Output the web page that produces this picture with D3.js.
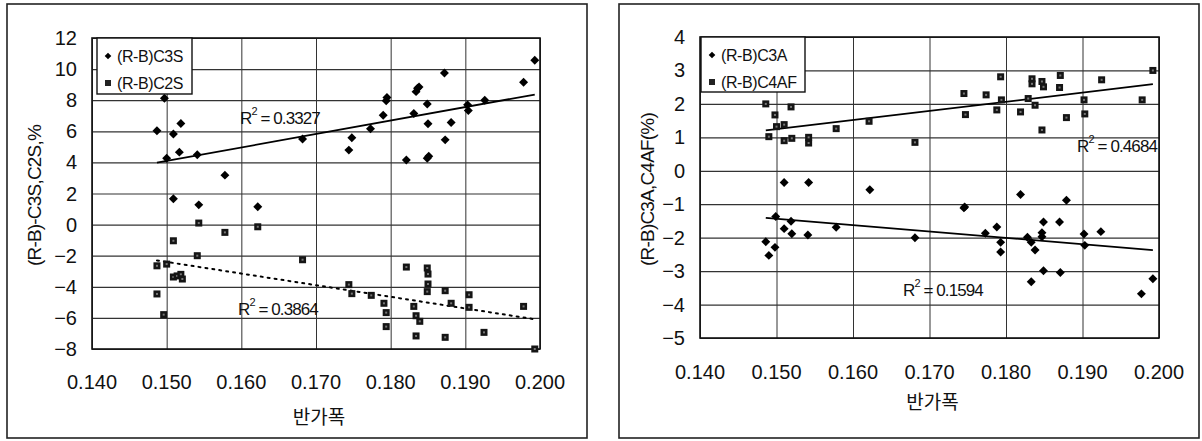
<!DOCTYPE html>
<html>
<head>
<meta charset="utf-8">
<script src="https://cdn.jsdelivr.net/npm/d3@7"></script>
<style>
  body { margin: 0; background: #fff; }
  svg text { font-family: "Liberation Sans", Arial, sans-serif; fill: #111; }
</style>
</head>
<body>
<div id="graph"></div>
<script>
// x ticks shared by both panels
var xTicks = [0.140, 0.150, 0.160, 0.170, 0.180, 0.190, 0.200];
var leftYTicks = [-8, -6, -4, -2, 0, 2, 4, 6, 8, 10, 12];
var rightYTicks = [-5, -4, -3, -2, -1, 0, 1, 2, 3, 4];

// left panel: (R-B)C3S
var c3sX = [0.1487, 0.1497, 0.1500, 0.1509, 0.1519, 0.1517, 0.1541, 0.1578, 0.1509, 0.1543, 0.1622, 0.1682,
            0.1744, 0.1748, 0.1773, 0.1790, 0.1795, 0.1794, 0.1821, 0.1831, 0.1834, 0.1836, 0.1838, 0.1849,
            0.1850, 0.1849, 0.1851, 0.1872, 0.1873, 0.1881, 0.1903, 0.1904, 0.1926, 0.1978, 0.1993];
var c3sY = [6.03, 8.13, 4.27, 5.83, 6.50, 4.66, 4.49, 3.18, 1.66, 1.27, 1.15, 5.51,
            4.79, 5.58, 6.16, 7.03, 8.17, 7.97, 4.15, 7.14, 8.55, 8.77, 8.85, 7.76,
            6.48, 4.27, 4.40, 9.75, 5.45, 6.56, 7.70, 7.33, 8.00, 9.15, 10.57];

// left panel: (R-B)C2S
var c2sX = [0.1487, 0.1500, 0.1487, 0.1496, 0.1509, 0.1509, 0.1514, 0.1519, 0.1521, 0.1541, 0.1543, 0.1578,
            0.1622, 0.1682, 0.1744, 0.1748, 0.1774, 0.1791, 0.1794, 0.1794, 0.1821, 0.1831, 0.1834, 0.1839,
            0.1834, 0.1849, 0.1850, 0.1850, 0.1849, 0.1873, 0.1881, 0.1873, 0.1905, 0.1905, 0.1925, 0.1978, 0.1993];
var c2sY = [-2.65, -2.54, -4.46, -5.79, -1.04, -3.37, -3.30, -3.20, -3.50, -2.00, 0.10, -0.50,
            -0.14, -2.26, -3.86, -4.44, -4.55, -5.06, -5.66, -6.56, -2.73, -5.26, -5.86, -6.22,
            -7.16, -2.79, -3.18, -3.82, -4.31, -4.25, -5.06, -7.25, -4.51, -5.32, -6.93, -5.26, -8.00];

// right panel: (R-B)C3A
var c3aX = [0.1510, 0.1542, 0.1622, 0.1499, 0.1519, 0.1510, 0.1520, 0.1541, 0.1578, 0.1486, 0.1498, 0.1490,
            0.1681, 0.1745, 0.1746, 0.1819, 0.1879, 0.1773, 0.1788, 0.1793, 0.1793, 0.1828, 0.1833, 0.1838,
            0.1833, 0.1847, 0.1847, 0.1849, 0.1849, 0.1870, 0.1871, 0.1902, 0.1903, 0.1924, 0.1977, 0.1992];
var c3aY = [-0.35, -0.35, -0.57, -1.37, -1.51, -1.73, -1.88, -1.92, -1.69, -2.12, -2.29, -2.53,
            -2.00, -1.11, -1.08, -0.71, -0.88, -1.87, -1.68, -2.14, -2.43, -1.99, -2.14, -2.37,
            -3.32, -1.85, -1.97, -1.53, -2.99, -1.53, -3.04, -1.89, -2.23, -1.82, -3.68, -3.23];

// right panel: (R-B)C4AF
var c4afX = [0.1486, 0.1498, 0.1519, 0.1500, 0.1510, 0.1490, 0.1510, 0.1520, 0.1542, 0.1542, 0.1578, 0.1621,
             0.1681, 0.1745, 0.1747, 0.1774, 0.1788, 0.1793, 0.1794, 0.1819, 0.1829, 0.1834, 0.1834, 0.1838,
             0.1847, 0.1849, 0.1847, 0.1871, 0.1870, 0.1879, 0.1902, 0.1903, 0.1925, 0.1978, 0.1992];
var c4afY = [2.00, 1.67, 1.91, 1.32, 1.38, 1.02, 0.90, 0.97, 1.00, 0.83, 1.26, 1.48,
             0.85, 2.31, 1.68, 2.27, 1.82, 2.81, 2.12, 1.76, 2.16, 2.75, 2.60, 1.96,
             2.67, 2.51, 1.22, 2.85, 2.49, 1.59, 2.12, 1.70, 2.72, 2.12, 3.00];

var width = 1202, height = 441;

var svg = d3.select("#graph")
    .append("svg")
    .attr("width", width)
    .attr("height", height);

// least squares fit, drawn over the data range like a spreadsheet trendline
function fit(xs, ys) {
  var mx = d3.mean(xs), my = d3.mean(ys);
  var sxy = d3.sum(xs, function(d, i) { return (d - mx) * (ys[i] - my); });
  var sxx = d3.sum(xs, function(d) { return (d - mx) * (d - mx); });
  var b = sxy / sxx, a = my - b * mx;
  var x0 = d3.min(xs), x1 = d3.max(xs);
  return [[x0, a + b * x0], [x1, a + b * x1]];
}

function diamond(g, x, y, xs, ys, cls) {
  g.selectAll("path." + cls)
      .data(xs)
      .enter()
      .append("path")
      .attr("class", cls)
      .attr("d", d3.symbol().type(d3.symbolSquare).size(40))
      .attr("transform", function(d, i) { return "translate(" + x(d) + "," + y(ys[i]) + ") rotate(45)"; })
      .style("fill", "#000");
}

function square(g, x, y, xs, ys, cls) {
  var s = g.selectAll("g." + cls)
      .data(xs)
      .enter()
      .append("g")
      .attr("class", cls)
      .attr("transform", function(d, i) { return "translate(" + x(d) + "," + y(ys[i]) + ")"; });
  s.append("rect")
      .attr("x", -3.5).attr("y", -3.5)
      .attr("width", 7).attr("height", 7)
      .style("fill", "#151515");
  s.append("rect")
      .attr("x", -1).attr("y", -1)
      .attr("width", 2).attr("height", 2)
      .style("fill", "#777");
}

function panel(cfg) {
  var g = svg.append("g");

  // outer frame
  g.append("rect")
      .attr("x", cfg.frame[0]).attr("y", cfg.frame[1])
      .attr("width", cfg.frame[2]).attr("height", cfg.frame[3])
      .style("fill", "none")
      .style("stroke", "#222")
      .style("stroke-width", 1.6);

  var x = d3.scaleLinear().domain([0.14, 0.2]).range([cfg.left, cfg.right]);
  var y = d3.scaleLinear().domain(d3.extent(cfg.yTicks)).range([cfg.bottom, cfg.top]);

  // grid
  g.append("g")
      .attr("transform", "translate(0," + cfg.bottom + ")")
      .call(d3.axisBottom(x).tickValues(xTicks).tickSize(-(cfg.bottom - cfg.top)).tickFormat(""))
      .call(function(a) { a.select(".domain").remove(); })
      .selectAll("line").style("stroke", "#333").style("stroke-width", 1);
  g.append("g")
      .attr("transform", "translate(" + cfg.left + ",0)")
      .call(d3.axisLeft(y).tickValues(cfg.yTicks).tickSize(-(cfg.right - cfg.left)).tickFormat(""))
      .call(function(a) { a.select(".domain").remove(); })
      .selectAll("line").style("stroke", "#333").style("stroke-width", 1.2);

  // plot border
  g.append("rect")
      .attr("x", cfg.left).attr("y", cfg.top)
      .attr("width", cfg.right - cfg.left).attr("height", cfg.bottom - cfg.top)
      .style("fill", "none")
      .style("stroke", "#111")
      .style("stroke-width", 1.6);

  // tick labels
  g.selectAll("text.xt")
      .data(xTicks)
      .enter()
      .append("text")
      .attr("class", "xt")
      .attr("x", function(d) { return x(d); })
      .attr("y", cfg.xLabelY)
      .attr("text-anchor", "middle")
      .style("font-size", "20px")
      .text(d3.format(".3f"));
  g.selectAll("text.yt")
      .data(cfg.yTicks)
      .enter()
      .append("text")
      .attr("class", "yt")
      .attr("x", cfg.left - 15)
      .attr("y", function(d) { return y(d); })
      .attr("dy", "0.35em")
      .attr("text-anchor", "end")
      .style("font-size", "20px")
      .text(function(d) { return d < 0 ? "\u2212" + Math.abs(d) : d; });

  // axis titles
  g.append("text")
      .attr("x", (cfg.left + cfg.right) / 2 + 3)
      .attr("y", cfg.xTitleY)
      .attr("text-anchor", "middle")
      .style("font-family", "'Noto Sans CJK KR', sans-serif")
      .style("font-size", "19px")
      .text("반가폭");
  g.append("text")
      .attr("transform", "translate(" + cfg.yTitleX + "," + ((cfg.top + cfg.bottom) / 2 + 2) + ") rotate(-90)")
      .attr("text-anchor", "middle")
      .attr("dy", "0.35em")
      .style("font-size", "19px")
      .style("letter-spacing", "-0.8px")
      .text(cfg.yTitle);

  // trend lines
  var line = d3.line().x(function(d) { return x(d[0]); }).y(function(d) { return y(d[1]); });
  cfg.series.forEach(function(s) {
    g.append("path")
        .datum(fit(s.xs, s.ys))
        .attr("d", line)
        .style("fill", "none")
        .style("stroke", "#000")
        .style("stroke-width", s.dotted ? 2 : 1.8)
        .style("stroke-dasharray", s.dotted ? "2,5" : null)
        .style("stroke-linecap", s.dotted ? "round" : "butt");
  });

  // points
  cfg.series.forEach(function(s, i) {
    if (s.shape == "diamond") diamond(g, x, y, s.xs, s.ys, "p" + i);
    else square(g, x, y, s.xs, s.ys, "p" + i);
  });

  // r squared labels
  cfg.series.forEach(function(s) {
    var t = g.append("text")
        .attr("x", s.r2pos[0])
        .attr("y", s.r2pos[1])
        .attr("text-anchor", s.r2anchor || "start")
        .style("font-size", "17px")
        .style("letter-spacing", "-0.9px");
    t.append("tspan").text("R");
    t.append("tspan").attr("dy", -9).style("font-size", "11px").text("2");
    t.append("tspan").attr("dy", 9).text(" = " + s.r2);
  });

  // legend
  var lg = g.append("g");
  lg.append("rect")
      .attr("x", cfg.legend[0]).attr("y", cfg.legend[1])
      .attr("width", cfg.legend[2]).attr("height", cfg.legend[3])
      .style("fill", "#fff")
      .style("stroke", "#111")
      .style("stroke-width", 1.4);
  cfg.series.forEach(function(s, i) {
    var ly = cfg.legend[1] + 18 + i * 27;
    var mx = cfg.legend[0] + 11;
    if (s.shape == "diamond") {
      lg.append("path")
          .attr("d", d3.symbol().type(d3.symbolSquare).size(22))
          .attr("transform", "translate(" + mx + "," + ly + ") rotate(45)")
          .style("fill", "#000");
    } else {
      lg.append("rect")
          .attr("x", mx - 3).attr("y", ly - 3)
          .attr("width", 6).attr("height", 6)
          .style("fill", "#222");
    }
    lg.append("text")
        .attr("x", mx + 9)
        .attr("y", ly)
        .attr("dy", "0.35em")
        .style("font-size", "16px")
        .style("letter-spacing", "-0.4px")
        .text(s.name);
  });
}

panel({
  frame: [7, 4, 580, 434],
  left: 92, right: 540, top: 38, bottom: 349,
  yTicks: leftYTicks,
  xLabelY: 389, xTitleY: 424, yTitleX: 34,
  yTitle: "(R-B)-C3S,C2S,%",
  legend: [97, 38, 95, 56],
  series: [
    {name: "(R-B)C3S", xs: c3sX, ys: c3sY, shape: "diamond", r2: "0.3327", r2pos: [240, 124]},
    {name: "(R-B)C2S", xs: c2sX, ys: c2sY, shape: "square", dotted: true, r2: "0.3864", r2pos: [238, 315]}
  ]
});

panel({
  frame: [619, 4, 580, 434],
  left: 700, right: 1159, top: 37, bottom: 338,
  yTicks: rightYTicks,
  xLabelY: 379, xTitleY: 409, yTitleX: 647,
  yTitle: "(R-B)C3A,C4AF(%)",
  legend: [701, 37, 104, 55],
  series: [
    {name: "(R-B)C3A", xs: c3aX, ys: c3aY, shape: "diamond", r2: "0.1594", r2pos: [903, 296]},
    {name: "(R-B)C4AF", xs: c4afX, ys: c4afY, shape: "square", r2: "0.4684", r2pos: [1157, 152], r2anchor: "end"}
  ]
});
</script>
</body>
</html>
